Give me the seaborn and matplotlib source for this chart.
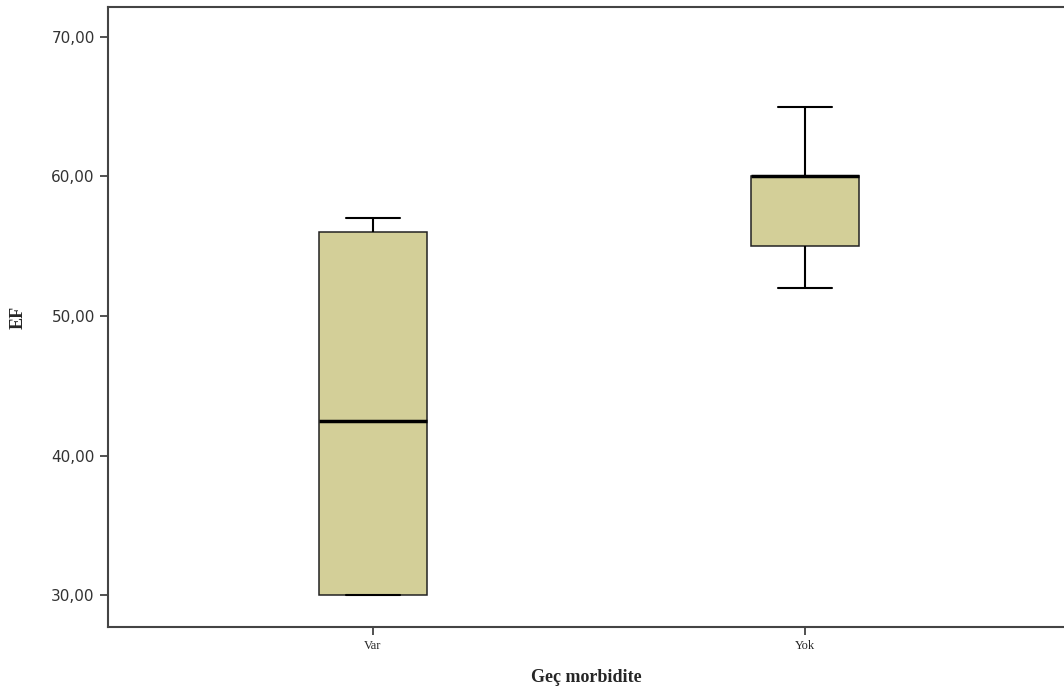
import pandas as pd
import numpy as np
import matplotlib.pyplot as plt
import seaborn as sns

# Raw EF values per group (chosen to give the quartiles)
groups = ['Var', 'Yok']
ef_var = [30, 30, 30, 30, 55, 56, 56, 57]
ef_yok = [52, 55, 55, 60, 60, 60, 60, 65]
y_ticks = [30, 40, 50, 60, 70]
y_tick_labels = ['30,00', '40,00', '50,00', '60,00', '70,00']

df = pd.DataFrame({
    'Geç morbidite': [groups[0]] * len(ef_var) + [groups[1]] * len(ef_yok),
    'EF': ef_var + ef_yok,
})

sns.set_style('white')

fig = plt.figure(figsize=(10.64, 6.91), dpi=100)
ax = fig.add_axes([0.1015, 0.0926, 0.8985, 0.8973])

sns.boxplot(data=df, x='Geç morbidite', y='EF', order=groups, ax=ax,
            width=0.25, color='#d3cf98', whis=np.inf, saturation=1,
            linewidth=1.1, linecolor='#222222',
            medianprops={'color': 'black', 'linewidth': 2.5},
            whiskerprops={'color': 'black', 'linewidth': 1.5},
            capprops={'color': 'black', 'linewidth': 1.5})

ax.set_xlim(-0.613, 1.6)
ax.set_ylim(27.71, 72.15)
ax.set_yticks(y_ticks)
ax.set_yticklabels(y_tick_labels, fontsize=11, color='#333333', family='DejaVu Sans')
ax.set_xticks([0, 1])
ax.set_xticklabels(groups, fontsize=9, family='Liberation Serif')
ax.tick_params(axis='both', length=6, width=1.2, color='#333333', direction='out',
               left=True, bottom=True)

ax.set_xlabel('Geç morbidite', fontsize=13, fontweight='bold', family='Liberation Serif',
              labelpad=12)
ax.set_ylabel('EF', fontsize=13, fontweight='bold', family='Liberation Serif', labelpad=18)

for side in ['left', 'bottom', 'top']:
    ax.spines[side].set_color('#444444')
    ax.spines[side].set_linewidth(1.5)
ax.spines['right'].set_visible(False)

fig.savefig('out.png', dpi=100)
plt.close(fig)
